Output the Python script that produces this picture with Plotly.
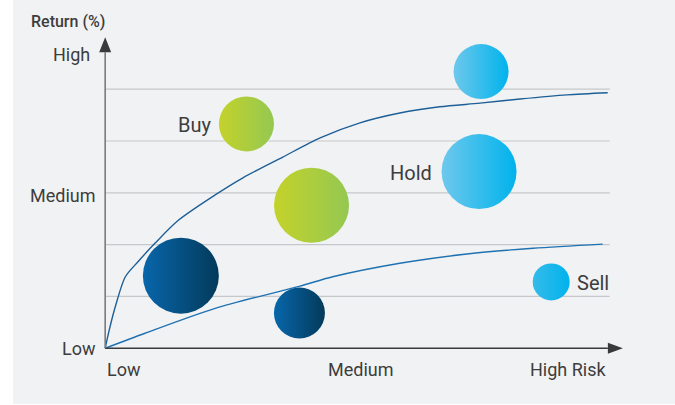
import plotly.graph_objects as go

# ---- data (risk / return units; grid step = 1) ----
upper_x = [0, 0.08, 0.20, 0.40, 0.65, 0.99, 1.45, 2.18, 2.73, 3.52, 4.26, 5.05, 5.84, 6.63, 7.43, 8.22, 9.15, 9.96]
upper_y = [0, 0.35, 0.80, 1.38, 1.67, 2.03, 2.47, 2.96, 3.29, 3.69, 4.06, 4.35, 4.54, 4.66, 4.73, 4.81, 4.89, 4.93]
lower_x = [0, 0.79, 2.18, 3.86, 4.51, 5.84, 7.17, 8.48, 9.86]
lower_y = [0, 0.29, 0.77, 1.20, 1.38, 1.64, 1.82, 1.93, 2.01]

dark_x = [1.50, 3.85]
dark_y = [1.40, 0.68]
dark_size = [76, 51]

green_x = [2.80, 4.09]
green_y = [4.33, 2.76]
green_size = [55, 75]

light_x = [7.45, 7.41, 8.84]
light_y = [5.34, 3.41, 1.28]
light_size = [55, 75, 37]

grid_levels = [1, 2, 3, 4, 5]
y_tick_vals = [5.66, 2.94, 0]
y_tick_text = ["High", "Medium", "Low"]
x_tick_vals = [0, 5.08, 9.96]
x_tick_text = ["Low", "Medium", "High Risk"]

# ---- layout geometry ----
W, H = 675, 405
ML, MR, MT, MB = 85, 35, 27, 36
XR = [-0.4, 10.6]
YR = [-0.4, 6.2]
PW = W - ML - MR
PH = H - MT - MB
ux = PW / (XR[1] - XR[0])
uy = PH / (YR[1] - YR[0])

TEXT = "#3d3d3d"
FONT = "Roboto"

fig = go.Figure()

def bubbles(xs, ys, sizes, c_left, c_right):
    fig.add_trace(go.Scatter(
        x=xs, y=ys, mode="markers", hoverinfo="skip",
        marker=dict(size=sizes, sizemode="diameter", color=c_left, opacity=1,
                    line=dict(width=0),
                    gradient=dict(type="horizontal", color=c_right)),
        showlegend=False, cliponaxis=False))

bubbles(dark_x, dark_y, dark_size, "#0866ab", "#033a5a")
bubbles(green_x, green_y, green_size, "#c4d22a", "#94c852")
bubbles(light_x, light_y, light_size, ["#6ec8ec", "#6ec8ec", "#35bbea"], "#00b3ec")

fig.add_trace(go.Scatter(x=upper_x, y=upper_y, mode="lines", hoverinfo="skip",
                         line=dict(color="#1d5f97", width=1.4, shape="spline", smoothing=0.8),
                         showlegend=False))
fig.add_trace(go.Scatter(x=lower_x, y=lower_y, mode="lines", hoverinfo="skip",
                         line=dict(color="#1f72b2", width=1.4, shape="spline", smoothing=0.8),
                         showlegend=False))

shapes = []
# panel background
shapes.append(dict(type="rect", xref="paper", yref="paper", layer="below",
                   x0=(13 - ML) / PW, x1=(W - ML) / PW + 0.02,
                   y0=(1 - MB) / PH, y1=(H - MB) / PH + 0.02,
                   fillcolor="#f1f2f4", line=dict(width=0)))
# gridlines
for g in grid_levels:
    shapes.append(dict(type="line", xref="x", yref="y", layer="below",
                       x0=0, x1=10, y0=g, y1=g,
                       line=dict(color="#c5c7ca", width=1.2)))
# axes
x_tip = 10.26
y_tip = 6.0
head_len_x = 15 / ux
head_half_y = 5.5 / uy
shapes.append(dict(type="line", xref="x", yref="y", x0=0, x1=x_tip - head_len_x, y0=0, y1=0,
                   line=dict(color="#3a3a3a", width=1.6)))
shapes.append(dict(type="path", xref="x", yref="y",
                   path=f"M {x_tip - head_len_x},{-head_half_y} L {x_tip},0 L {x_tip - head_len_x},{head_half_y} Z",
                   fillcolor="#3a3a3a", line=dict(width=0)))
head_len_y = 15 / uy
head_half_x = 6 / ux
shapes.append(dict(type="line", xref="x", yref="y", x0=0, x1=0, y0=0, y1=y_tip - head_len_y,
                   line=dict(color="#7a7a7a", width=1.6)))
shapes.append(dict(type="path", xref="x", yref="y",
                   path=f"M {-head_half_x},{y_tip - head_len_y} L 0,{y_tip} L {head_half_x},{y_tip - head_len_y} Z",
                   fillcolor="#3a3a3a", line=dict(width=0)))

ann = []
# y tick labels
for v, t in zip(y_tick_vals, y_tick_text):
    shift = -13 if t == "High" else -7
    ann.append(dict(x=0, y=v, xref="x", yref="y", text=t, showarrow=False,
                    xanchor="right", yanchor="middle", xshift=shift,
                    font=dict(family=FONT, size=18, color=TEXT)))
# x tick labels
anchors = ["left", "center", "right"]
for v, t, a in zip(x_tick_vals, x_tick_text, anchors):
    ann.append(dict(x=v, y=0, xref="x", yref="y", text=t, showarrow=False,
                    xanchor=a, yanchor="middle", yshift=-21,
                    font=dict(family=FONT, size=18, color=TEXT)))
# axis title
ann.append(dict(x=0, y=y_tip, xref="x", yref="y", text="Return (%)", showarrow=False,
                xanchor="left", yanchor="middle", xshift=-76, yshift=16,
                font=dict(family=FONT, size=16, color=TEXT, weight=500)))
# bubble labels
ann.append(dict(x=green_x[0], y=green_y[0], xref="x", yref="y", text="Buy", showarrow=False,
                xanchor="right", yanchor="middle", xshift=-(green_size[0] / 2 + 6), yshift=-1,
                font=dict(family=FONT, size=20, color=TEXT)))
ann.append(dict(x=light_x[1], y=light_y[1], xref="x", yref="y", text="Hold", showarrow=False,
                xanchor="right", yanchor="middle", xshift=-(light_size[1] / 2 + 8), yshift=-1,
                font=dict(family=FONT, size=20, color=TEXT)))
ann.append(dict(x=light_x[2], y=light_y[2], xref="x", yref="y", text="Sell", showarrow=False,
                xanchor="left", yanchor="middle", xshift=(light_size[2] / 2 + 5), yshift=-1,
                font=dict(family=FONT, size=20, color=TEXT)))

fig.update_layout(
    width=W, height=H,
    margin=dict(l=ML, r=MR, t=MT, b=MB),
    paper_bgcolor="white", plot_bgcolor="rgba(0,0,0,0)",
    xaxis=dict(range=XR, visible=False, fixedrange=True),
    yaxis=dict(range=YR, visible=False, fixedrange=True),
    shapes=shapes, annotations=ann,
    showlegend=False,
)

fig.write_html("out.html", config={"displayModeBar": False})
